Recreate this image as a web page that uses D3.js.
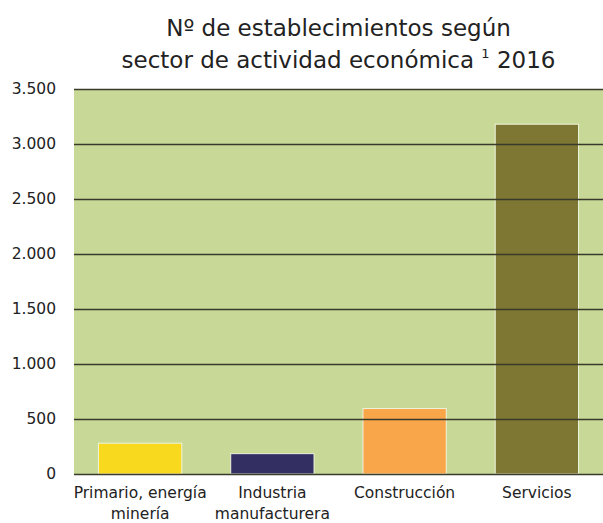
<!DOCTYPE html>
<html>
<head>
<meta charset="utf-8">
<script src="https://cdn.jsdelivr.net/npm/d3@7/dist/d3.min.js"></script>
<style>
  html, body { margin: 0; padding: 0; background: #ffffff; }
  svg { display: block; }
  text { font-family: "DejaVu Sans", "Liberation Sans", Arial, sans-serif; fill: #222; }
</style>
</head>
<body>
<script>
// Establecimientos por sector de actividad económica, 2016
const categories = [
  ["Primario, energía", "minería"],
  ["Industria", "manufacturera"],
  ["Construcción"],
  ["Servicios"]
];
const values = [280, 185, 595, 3180];
const barColors = ["#f9d91d", "#332f63", "#f9a64b", "#7e7733"];
const yTicks = [0, 500, 1000, 1500, 2000, 2500, 3000, 3500];
const yTickLabels = ["0", "500", "1.000", "1.500", "2.000", "2.500", "3.000", "3.500"];

const W = 603, H = 523;
const margin = { top: 89, right: 0, bottom: 49, left: 74 };
const innerW = W - margin.left - margin.right;
const innerH = H - margin.top - margin.bottom;
const FONT = "DejaVu Sans, Liberation Sans, Arial, sans-serif";

const svg = d3.select("body").append("svg")
  .attr("width", W).attr("height", H);

// Title
const cx = margin.left + innerW / 2;
const title = svg.append("text")
  .attr("text-anchor", "middle")
  .style("font-size", "23px")
  .style("font-family", FONT)
  .style("fill", "#222");
title.append("tspan").attr("x", cx).attr("y", 36)
  .text("Nº de establecimientos según");
const t2 = svg.append("text")
  .attr("x", cx).attr("y", 68)
  .attr("text-anchor", "middle")
  .style("font-size", "23px")
  .style("font-family", FONT)
  .style("fill", "#222");
t2.append("tspan").text("sector de actividad económica ");
t2.append("tspan").attr("dy", -10).style("font-size", "13px").text("1");
t2.append("tspan").attr("dy", 10).text(" 2016");

const g = svg.append("g").attr("transform", `translate(${margin.left},${margin.top})`);

const x = d3.scaleBand()
  .domain(d3.range(categories.length))
  .range([0, innerW])
  .paddingInner(0.37)
  .paddingOuter(0.185);

const y = d3.scaleLinear().domain([0, 3500]).range([innerH, 0]);

// Plot background
g.append("rect")
  .attr("x", 0).attr("y", 0)
  .attr("width", innerW).attr("height", innerH)
  .attr("fill", "#c8d997");

// Bars
g.selectAll("rect.bar")
  .data(values)
  .join("rect")
  .attr("class", "bar")
  .attr("x", (d, i) => x(i))
  .attr("y", d => y(d))
  .attr("width", x.bandwidth())
  .attr("height", d => y(0) - y(d))
  .attr("fill", (d, i) => barColors[i])
  .attr("stroke", "#eef3dc")
  .attr("stroke-width", 1);

// Horizontal grid lines drawn over the bars
const yAxis = d3.axisLeft(y)
  .tickValues(yTicks)
  .tickSize(-innerW)
  .tickPadding(18)
  .tickFormat((d, i) => yTickLabels[i]);

const ya = g.append("g").call(yAxis)
  .attr("font-family", null)
  .attr("font-size", null);
ya.select(".domain").remove();
ya.selectAll(".tick line")
  .attr("stroke", "#3a3a2a")
  .attr("stroke-width", 1.3);
ya.selectAll(".tick text")
  .style("font-size", "15.5px")
  .style("font-family", FONT)
  .style("fill", "#222");

// Category labels
const xl = g.append("g").attr("transform", `translate(0,${innerH})`);
categories.forEach((lines, i) => {
  const t = xl.append("text")
    .attr("text-anchor", "middle")
    .style("font-size", "15.5px")
    .style("font-family", FONT);
  lines.forEach((ln, j) => {
    t.append("tspan")
      .attr("x", x(i) + x.bandwidth() / 2)
      .attr("y", 24 + j * 21)
      .text(ln);
  });
});
</script>
</body>
</html>
